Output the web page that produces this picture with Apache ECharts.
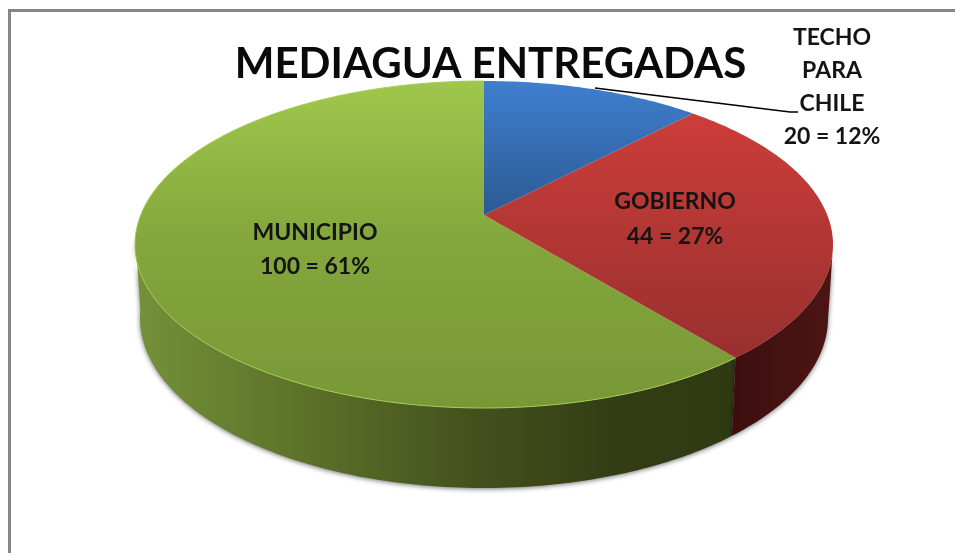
<!DOCTYPE html>
<html>
<head>
<meta charset="utf-8">
<title>Mediagua entregadas</title>
<script src="https://cdn.jsdelivr.net/npm/echarts@6/dist/echarts.min.js"></script>
<style>
  html, body { margin: 0; padding: 0; background: #fff; }
  #main { width: 955px; height: 553px; }
</style>
</head>
<body>
<div id="main"></div>
<script>
  const titleText = 'MEDIAGUA ENTREGADAS'
  const categories = ['TECHO\nPARA\nCHILE', 'GOBIERNO', 'MUNICIPIO']
  const values = [20, 44, 100]

  const total = values.reduce((a, b) => a + b, 0)
  const fontName = 'Lato, "Open Sans", sans-serif'

  // top face ellipse, the slices meet at the apex (it sits above the ellipse centre)
  const top3d = { cx: 484, cy: 244.5, rx: 349, ry: 163.5 }
  const bottom3d = { cx: 484, cy: 318, rx: 344, ry: 170 }
  const apex = { x: 484, y: 215 }

  const vgrad = (stops) => new echarts.graphic.LinearGradient(0, 0, 0, 1, stops)
  const hgrad = (stops) => new echarts.graphic.LinearGradient(0, 0, 1, 0, stops)

  const topColors = [
    vgrad([{ offset: 0, color: '#3f7fcf' }, { offset: 1, color: '#2c5a92' }]),
    vgrad([{ offset: 0, color: '#cc3d39' }, { offset: 1, color: '#98302e' }]),
    vgrad([{ offset: 0, color: '#a0c74c' }, { offset: 0.5, color: '#83a63c' }, { offset: 1, color: '#789836' }])
  ]
  const wallColors = [
    '#2c5a92',
    hgrad([{ offset: 0, color: '#3c0f0f' }, { offset: 1, color: '#4c1513' }]),
    hgrad([{ offset: 0, color: '#74913a' }, { offset: 0.25, color: '#5f752b' }, { offset: 0.55, color: '#45521d' }, { offset: 0.8, color: '#323d14' }, { offset: 1, color: '#2f3a12' }])
  ]
  const labelPos = [[832, 87], [675, 219], [315, 250]]
  const labelLineHeight = [33, 35, 34]

  // angle in degrees, clockwise from 12 o'clock -> angle parameter on the top ellipse
  function rayToEllipse(deg) {
    const a = deg * Math.PI / 180
    const dx = Math.sin(a), dy = -Math.cos(a)
    const y0 = (apex.y - top3d.cy) / top3d.ry
    const b = y0 * dy
    const s = -b + Math.sqrt(b * b - (y0 * y0 - 1))
    return Math.atan2(s * dx, -(y0 + s * dy))
  }
  const onEllipse = (e, t) => [e.cx + e.rx * Math.sin(t), e.cy - e.ry * Math.cos(t)]

  function sliceRange(index) {
    let before = 0
    for (let i = 0; i < index; i++) before += values[i]
    return [before / total * 360, (before + values[index]) / total * 360]
  }
  function arcParams(from, to) {
    const out = []
    for (let d = from; d < to; d += 1) out.push(rayToEllipse(d))
    out.push(rayToEllipse(to))
    return out.map(t => (t < 0 ? t + Math.PI * 2 : t))
  }

  function renderWall(params, api) {
    const index = api.value(0)
    const range = sliceRange(index)
    const ts = arcParams(range[0], range[1]).filter(t => t >= Math.PI / 2 && t <= Math.PI * 1.52)
    if (!ts.length) return { type: 'group', children: [] }
    const upper = ts.map(t => onEllipse(top3d, t))
    const lower = ts.map(t => onEllipse(bottom3d, t)).reverse()
    return {
      type: 'polygon',
      shape: { points: upper.concat(lower) },
      style: { fill: wallColors[index], shadowBlur: 5, shadowColor: 'rgba(0,0,0,0.55)', shadowOffsetY: 1 }
    }
  }

  function renderTop(params, api) {
    const index = api.value(0)
    const range = sliceRange(index)
    const pts = arcParams(range[0], range[1]).map(t => onEllipse(top3d, t))
    const children = [{
      type: 'polygon',
      shape: { points: [[apex.x, apex.y]].concat(pts) },
      style: { fill: topColors[index] }
    }]
    if (index === 2) {
      children.push({
        type: 'polyline',
        shape: { points: pts },
        style: { fill: null, stroke: '#a5cb55', lineWidth: 1 }
      })
    }
    if (index === 0) {
      children.push({
        type: 'polyline',
        shape: { points: [[595, 88], [790, 112], [798, 112]] },
        style: { fill: null, stroke: '#000', lineWidth: 1.7 }
      })
    }
    const pct = Math.round(api.value(1) / total * 100)
    children.push({
      type: 'text',
      x: labelPos[index][0],
      y: labelPos[index][1],
      style: {
        text: categories[index] + '\n' + api.value(1) + ' = ' + pct + '%',
        font: 'bold 23px ' + fontName,
        fill: '#141414',
        align: 'center',
        verticalAlign: 'middle',
        lineHeight: labelLineHeight[index]
      }
    })
    return { type: 'group', children: children }
  }

  const seriesData = [2, 1, 0].map(i => [i, values[i]])

  const myChart = echarts.init(document.getElementById('main'), null, { renderer: 'canvas' })
  myChart.setOption({
    animation: false,
    backgroundColor: '#ffffff',
    title: {
      text: titleText,
      left: 485.5,
      textAlign: 'center',
      top: 38,
      textStyle: { fontFamily: fontName, fontWeight: 'bold', fontSize: 42, color: '#0a0a0a' }
    },
    graphic: [{
      type: 'rect',
      silent: true,
      shape: { x: 9.5, y: 10.5, width: 980, height: 600 },
      style: { fill: 'none', stroke: '#868686', lineWidth: 3 }
    }],
    series: [{
      type: 'custom',
      coordinateSystem: 'none',
      renderItem: renderWall,
      data: seriesData,
      silent: true,
      z: 1
    }, {
      type: 'custom',
      coordinateSystem: 'none',
      renderItem: renderTop,
      data: seriesData,
      silent: true,
      z: 2
    }]
  })
</script>
</body>
</html>
